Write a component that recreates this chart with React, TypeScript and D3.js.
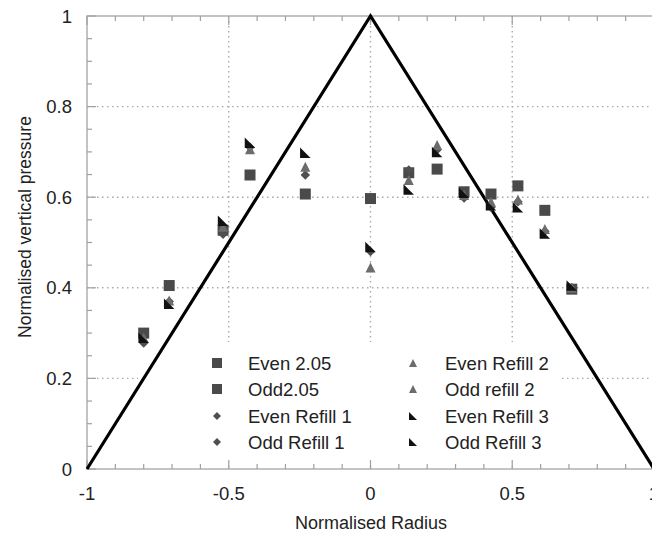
import React from "react";
import * as d3 from "d3";

// radial positions of the measurement points
const radii = [-0.8, -0.71, -0.52, -0.425, -0.23, 0, 0.135, 0.235, 0.33, 0.425, 0.52, 0.615, 0.71];

// even ports on one set of radii, odd on the other
const evenIdx = [0, 2, 4, 6, 8, 10, 12];
const oddIdx = [1, 3, 5, 7, 9, 11];

const squareVals = [0.3, 0.405, 0.527, 0.649, 0.607, 0.597, 0.654, 0.662, 0.612, 0.607, 0.625, 0.571, 0.397];
const diamondVals = [0.278, 0.37, 0.518, 0.71, 0.649, 0.48, 0.66, 0.705, 0.598, 0.578, 0.59, 0.525, 0.4];
const triangleVals = [0.29, 0.372, 0.535, 0.706, 0.667, 0.445, 0.638, 0.715, 0.605, 0.59, 0.595, 0.53, 0.4];
const flagVals = [0.29, 0.365, 0.548, 0.72, 0.698, 0.49, 0.617, 0.7, 0.61, 0.582, 0.578, 0.52, 0.405];

const seriesNames = [
  "Even 2.05",
  "Odd2.05",
  "Even Refill 1",
  "Odd Refill 1",
  "Even Refill 2",
  "Odd refill 2",
  "Even Refill 3",
  "Odd Refill 3",
];

// the theoretical pressure profile
const profile = [
  [-1, 0],
  [0, 1],
  [1, 0],
];

const xTicks = [-1, -0.5, 0, 0.5, 1];
const yTicks = [0, 0.2, 0.4, 0.6, 0.8, 1];

type Shape = "square" | "diamond" | "triangle" | "flag";

const shapeOf: Shape[] = ["square", "square", "diamond", "diamond", "triangle", "triangle", "flag", "flag"];
const colorOf: Record<Shape, string> = {
  square: "#4a4a4a",
  diamond: "#505050",
  triangle: "#6c6c6c",
  flag: "#111",
};

const valuesFor = [squareVals, squareVals, diamondVals, diamondVals, triangleVals, triangleVals, flagVals, flagVals];

function markerPath(shape: Shape, s: number) {
  const h = s / 2;
  if (shape === "square") return `M${-h},${-h}H${h}V${h}H${-h}Z`;
  if (shape === "diamond") return `M0,${-h}L${h},0L0,${h}L${-h},0Z`;
  if (shape === "triangle") return `M0,${-h}L${h},${h}L${-h},${h}Z`;
  return `M${-h},${-h}L${-h},${h}L${h},${h}Z`;
}

const markerSize: Record<Shape, number> = { square: 11, diamond: 9.5, triangle: 10, flag: 10.5 };

export default function App() {
  const W = 652;
  const H = 538;
  const x = d3.scaleLinear().domain([-1, 1]).range([87, 654]);
  const y = d3.scaleLinear().domain([0, 1]).range([469, 16]);
  const font = "'Liberation Sans', Arial, sans-serif";

  const xMinor = d3.range(-10, 11).map((d) => d / 10);
  const yMinor = d3.range(0, 21).map((d) => d / 20);

  const line = d3
    .line<number[]>()
    .x((d) => x(d[0]))
    .y((d) => y(d[1]));

  const points = seriesNames.map((name, si) => {
    const idx = si % 2 === 0 ? evenIdx : oddIdx;
    return idx.map((i) => ({ x: radii[i], y: valuesFor[si][i], shape: shapeOf[si] }));
  });

  const legendRows = [363, 389, 416, 442];

  return (
    <svg width={W} height={H} style={{ position: "absolute", left: 0, top: 0 }} fontFamily={font}>
      <rect width={W} height={H} fill="#fff" />
      {/* grid */}
      {[-0.5, 0, 0.5].map((t) => (
        <line key={"gx" + t} x1={x(t)} x2={x(t)} y1={y(1)} y2={y(0)} stroke="#aaa" strokeWidth={1.4} strokeDasharray="1.5,3.5" />
      ))}
      {[0.2, 0.4, 0.6, 0.8].map((t) => (
        <line key={"gy" + t} x1={x(-1)} x2={x(1)} y1={y(t)} y2={y(t)} stroke="#aaa" strokeWidth={1.4} strokeDasharray="1.5,3.5" />
      ))}
      {/* legend background */}
      <rect x={138} y={342} width={424} height={120} fill="#fff" />
      {/* frame */}
      <rect x={x(-1)} y={y(1)} width={x(1) - x(-1)} height={y(0) - y(1)} fill="none" stroke="#b0b0b0" strokeWidth={1.5} />
      {xMinor.map((t, i) => {
        const len = i % 5 === 0 ? 9 : 5;
        return (
          <g key={"xt" + i} stroke="#a0a0a0" strokeWidth={1.2}>
            <line x1={x(t)} x2={x(t)} y1={y(0)} y2={y(0) - len} />
            <line x1={x(t)} x2={x(t)} y1={y(1)} y2={y(1) + len} />
          </g>
        );
      })}
      {yMinor.map((t, i) => {
        const len = i % 4 === 0 ? 9 : 5;
        return (
          <line key={"yt" + i} x1={x(-1)} x2={x(-1) + len} y1={y(t)} y2={y(t)} stroke="#a0a0a0" strokeWidth={1.2} />
        );
      })}
      {/* tick labels */}
      {xTicks.map((t) => (
        <text key={"xl" + t} x={x(t)} y={500} textAnchor="middle" fontSize={18.5} fill="#222">
          {t}
        </text>
      ))}
      {yTicks.map((t) => (
        <text key={"yl" + t} x={72} y={y(t) + 6.5} textAnchor="end" fontSize={18.5} fill="#222">
          {t}
        </text>
      ))}
      <text x={371} y={529} textAnchor="middle" fontSize={18} fill="#222">
        Normalised Radius
      </text>
      <text transform="translate(31,227) rotate(-90)" textAnchor="middle" fontSize={17.5} fill="#222">
        Normalised vertical pressure
      </text>
      {/* profile */}
      <path d={line(profile) ?? ""} fill="none" stroke="#000" strokeWidth={3.2} />
      {/* data */}
      {points.map((pts, si) => (
        <g key={"s" + si} fill={colorOf[shapeOf[si]]}>
          {pts.map((p, j) => (
            <path key={j} transform={`translate(${x(p.x)},${y(p.y)})`} d={markerPath(p.shape, markerSize[p.shape])} />
          ))}
        </g>
      ))}
      {/* legend */}
      {seriesNames.map((name, si) => {
        const col = si < 4 ? 0 : 1;
        const row = si % 4;
        const mx = col === 0 ? 217 : 413;
        const tx = col === 0 ? 248 : 445;
        const shape = shapeOf[si];
        return (
          <g key={"lg" + si}>
            <path
              transform={`translate(${mx},${legendRows[row]})`}
              d={markerPath(shape, shape === "square" ? 10 : 8)}
              fill={colorOf[shape]}
            />
            <text x={tx} y={legendRows[row] + 6.5} fontSize={18.5} fill="#222">
              {name}
            </text>
          </g>
        );
      })}
    </svg>
  );
}
